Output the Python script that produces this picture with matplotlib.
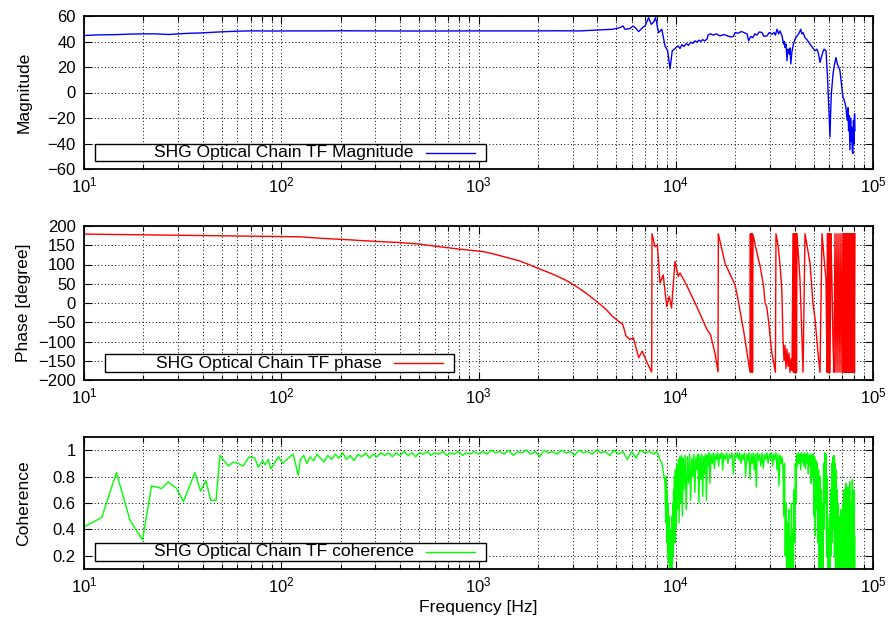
import matplotlib
matplotlib.use("Agg")
import matplotlib.pyplot as plt
from matplotlib.patches import Rectangle
from matplotlib.ticker import LogLocator, FixedLocator, FixedFormatter, NullFormatter

plt.rcParams['font.family'] = ['Liberation Sans', 'DejaVu Sans']
plt.rcParams['mathtext.fontset'] = 'custom'
plt.rcParams['mathtext.rm'] = 'Liberation Sans'
plt.rcParams['mathtext.default'] = 'regular'
plt.rcParams['font.size'] = 12

# ---- magnitude (dB) ----
mag_freq = [10, 11, 12, 13, 14.6, 17, 20, 23, 27, 30, 35, 39, 45, 50, 60, 70, 78, 90,
            110, 150, 200, 300, 500, 800, 1000, 1500, 2000, 2500, 3270, 4000, 4780,
            5220, 5400, 5530, 5860, 6080, 6300, 6490, 6800, 6990, 7280, 7510, 7700,
            7900, 8180, 8320, 8500, 8820, 9100, 9350, 9600, 10000, 10270, 10500, 10750,
            11000, 11300, 11600, 11900, 12200, 12500, 12800, 13100, 13400, 13700, 14000,
            14400, 14600, 15000, 15500, 16000, 16760, 17500, 18200, 19000, 19600, 20000,
            20700, 21500, 22200, 23000, 23400, 24000, 24600, 25200, 25800, 26500, 27380,
            28000, 29000, 29800, 30760, 31500, 32000, 32600, 33200, 33770, 34570, 35200,
            35500, 35800, 36200, 36640, 37000, 37300, 37700, 38000, 38300, 38800, 39500,
            40300, 41200, 42000, 42600, 43000, 43600, 44200, 45210, 46500, 47930, 49000,
            50810, 52000, 53000, 53860, 54800, 55600, 56500, 57800, 58800, 59600, 60530,
            61000, 61500, 62700, 63800, 64900, 66000, 67000, 68000, 69000, 70400, 71500,
            72900, 73500, 74200, 74700, 75200, 75700, 76400, 77000, 77500, 78000, 78500,
            79100, 79600, 80200, 80600, 81000]
mag_db = [44.7, 45.0, 45.2, 45.3, 45.4, 45.8, 46.0, 46.0, 45.5, 46.0, 46.5, 46.7, 47.2,
          47.6, 48.1, 48.3, 48.3, 48.2, 48.3, 48.3, 48.4, 48.3, 48.2, 48.3, 48.3, 48.3,
          48.3, 48.4, 48.3, 49.0, 49.6, 50.9, 52.2, 49.6, 50.1, 52.2, 50.0, 47.8, 51.0,
          52.2, 58.7, 53.5, 55.0, 58.7, 47.0, 48.0, 49.6, 36.6, 32.7, 18.5, 32.7, 35.0,
          36.6, 34.5, 37.5, 36.0, 38.4, 37.0, 39.5, 38.5, 40.5, 39.5, 41.0, 40.0, 41.5,
          40.5, 41.8, 45.2, 46.0, 45.0, 46.0, 44.4, 45.5, 44.5, 43.6, 44.0, 47.0, 46.5,
          47.8, 47.0, 46.0, 40.5, 44.0, 43.0, 46.0, 45.0, 47.5, 47.0, 44.0, 44.4, 47.0,
          45.7, 47.0, 45.0, 49.6, 46.0, 48.3, 44.4, 38.0, 40.0, 35.3, 38.0, 25.0, 34.0,
          32.7, 30.0, 35.0, 22.4, 32.0, 38.0, 42.0, 44.4, 46.0, 48.0, 49.6, 46.0, 47.0,
          43.0, 41.0, 38.0, 36.0, 32.7, 34.0, 30.0, 23.6, 28.0, 31.4, 34.0, 32.7, 12.0,
          -10.0, -34.8, -15.0, -1.0, 14.6, 22.0, 27.5, 22.0, 20.0, 17.0, 8.0, -3.7, -6.0,
          -11.5, -18.0, -21.8, -12.0, -30.0, -18.0, -45.0, -20.0, -38.0, -27.0, -46.0,
          -47.8, -22.0, -40.0, -16.6, -30.0]

# ---- phase (degree) ----
ph_freq = [10, 12, 15, 20, 25, 30, 40, 50, 70, 100, 124, 160, 223, 300, 400, 500, 638,
           800, 1057, 1200, 1400, 1600, 1800, 2050, 2300, 2500, 2800, 3150, 3500, 3950,
           4400, 4780, 5390, 5600, 5860, 6090,
           6490, 6760, 7160, 7550, 7580, 7850, 8070, 8320, 8640, 9000, 9270, 9520, 9910,
           10300, 10510, 11330, 12770, 14400, 15000, 15800, 16380, 16440, 17780, 19970,
           20400, 22180, 23790, 23900, 24000, 24100, 24250, 24400, 24500, 24640, 26300,
           26740, 27900, 28350, 28900, 29500, 30700, 31200, 31850, 32000, 32220, 33000,
           33770, 34500, 34950, 35400, 35800, 36200, 36640, 37100, 37500, 37950, 38400,
           38850, 39300, 39500, 39750, 39970, 40230, 40460, 40700, 40940, 41180, 42650,
           44200, 45210, 47930, 49600, 50810, 52600, 53860, 55130, 56400, 57800, 58450,
           58800, 59140, 59500, 59800, 60200, 60530, 61200, 61950, 62680, 63400, 64160,
           64900, 65670, 66440, 67200, 68000, 68800, 69610, 70420, 70830, 71250, 71670,
           72090, 72510, 72940, 73360, 73790, 74220, 74660, 75100, 75530, 75970, 76410,
           76860, 77310, 77760, 78220, 78680, 79140, 79600, 80070, 80540, 81000]
ph_deg = [179, 178.5, 178, 177, 176.5, 176, 175, 174.5, 173.5, 172.5, 172, 168, 164, 160,
          157, 153, 146, 140, 133.5, 127, 118, 110, 100, 88, 78, 70, 58, 42, 26, 5,
          -15, -35, -56, -86, -95, -90,
          -142, -125, -155, -179, 180, 146, 151, 52, 73, -9, 17, -13, 108, 69, 78, 47, -9,
          -69, -82, -130, -179, 180, 103, 47, 26, -78, -179, 180, -180, 180, -180, 180,
          -180, 177, 111, 98, 42, 0, -9, -44, -130, -148, -173, -180, 180, 150, 100, 34,
          -90, -150, -110, -170, -120, -165, -130, -180, -145, -175, 180, -180, 180, -180,
          180, -180, 180, -180, 180, 60, -180, 180, 104, 0, -40, -130, -180, 180, 120, 60,
          -180, 180, -180, 180, -180, 180, -180, 180, 50, -100, -180, 180, -180, 180, -180,
          180, -180, 180, -180, 180, -180, 180, -180, 180, -180, 180, -180, 180, -180, 180,
          -180, 180, -180, 180, -180, 180, -180, 180, -180, 180, -180, 180, -180, 180]

# ---- coherence ----
coh_freq = [10, 12.3, 14.6, 17.1, 19.8, 22, 24.8, 26.7, 29.5, 31.9, 36.5, 39, 41.5, 43.9,
            46.7, 48.9, 53.9, 57.1, 60.5, 64.1, 68.8, 73.5, 76.4, 80.4, 82.6, 85.9, 88.4,
            93.1, 96.9, 101.7, 106.4, 115, 121.9,
            125, 130, 135, 140, 146, 152, 158, 165, 172, 180, 188, 196, 205, 214, 224, 234,
            245, 256, 268, 280, 293, 306, 320, 335, 350, 366, 383, 400, 420, 440, 460, 480,
            500, 525, 550, 575, 600, 630, 660, 690, 720, 755, 790, 830, 870, 910, 950, 1000,
            1050, 1100, 1160, 1220, 1280, 1350, 1420, 1500, 1580, 1660, 1750, 1840, 1940,
            2040, 2150, 2260, 2380, 2500, 2630, 2770, 2920, 3070, 3230, 3400, 3580, 3770,
            3970, 4180, 4400, 4630, 4870, 5130, 5400, 5680, 5980, 6290, 6620, 6970, 7340,
            7720, 8000,
            8130, 8300, 8520, 8680, 8820, 8900, 8950, 9000, 9050, 9100, 9150, 9200, 9250,
            9300, 9350, 9400, 9450, 9500, 9550, 9600, 9650, 9700, 9750, 9800, 9850, 9900,
            9950, 10000, 10100, 10200, 10300, 10400, 10500, 10600, 10700, 10800, 10900,
            11000, 11150, 11300, 11450, 11600, 11750, 11900, 12050, 12200, 12350, 12500,
            12650, 12800, 12950, 13100, 13250, 13400, 13550, 13700, 13850, 14000, 14150,
            14300, 14450, 14600, 14750, 14900, 15100, 15300, 15500, 15700, 15900, 16100,
            16300, 16500, 16700, 16900, 17100, 17300, 17500, 17800, 18100, 18400, 18700,
            19000, 19300, 19600, 19900, 20200, 20500,
            20800, 21100, 21400, 21700, 22000, 22300, 22600, 22900, 23200, 23500, 23800,
            24100, 24400, 24700, 25000, 25300, 25600, 25900, 26200, 26600, 27000, 27400,
            27800, 28200, 28600, 29000, 29400, 29800, 30200, 30600, 31000, 31400, 31800,
            32200, 32600, 33000, 33400, 33800, 34200, 34600,
            35000, 35300, 35600, 35900, 36200, 36500, 36800, 37100, 37400, 37700, 38000,
            38300, 38600, 38900, 39200, 39500, 39800, 40100, 40400, 40700,
            41000, 41400, 41800, 42200, 42600, 43000, 43400, 43800, 44200, 44600, 45000,
            45400, 45800, 46200, 46600, 47000, 47400, 47800, 48200, 48600, 49000, 49400,
            49800, 50200, 50600, 51000, 51400, 51800, 52200, 52600, 53000, 53400, 53800,
            54200, 54600, 55000, 55400, 55800, 56200, 56600, 57000, 57400, 57800, 58200,
            58600, 59000, 59400, 59800, 60200, 60600, 61000, 61400, 61800, 62200, 62600,
            63000, 63400, 63800, 64200, 64600, 65000, 65400, 65800, 66200, 66600, 67000,
            67400, 67800, 68200, 68600, 69000, 69400, 69800, 70200, 70600, 71000, 71400,
            71800, 72200, 72600, 73000, 73400, 73800, 74200, 74600, 75000, 75400, 75800,
            76200, 76600, 77000, 77400, 77800, 78200, 78600, 79000, 79400, 79800, 80200,
            80600, 81000]
coh_val = [0.42, 0.49, 0.83, 0.47, 0.32, 0.73, 0.71, 0.76, 0.71, 0.61, 0.83, 0.69, 0.77,
           0.62, 0.62, 0.96, 0.88, 0.91, 0.90, 0.88, 0.95, 0.94, 0.87, 0.92, 0.89, 0.93,
           0.86, 0.91, 0.95, 0.90, 0.93, 0.97, 0.81,
           0.93, 0.96, 0.90, 0.95, 0.92, 0.97, 0.94, 0.91, 0.96, 0.93, 0.97, 0.94, 0.98,
           0.93, 0.96, 0.92, 0.97, 0.95, 0.98, 0.94, 0.97, 0.95, 0.98, 0.96, 0.98, 0.95,
           0.98, 0.96, 0.99, 0.96, 0.98, 0.95, 0.98, 0.97, 0.99, 0.96, 0.98, 0.97, 0.99,
           0.96, 0.98, 0.97, 0.99, 0.96, 0.98, 0.97, 0.99, 0.97,
           0.99, 0.97, 1.0, 0.98, 0.99, 0.97, 1.0, 0.96, 0.99, 0.98, 1.0, 0.97, 0.99, 0.95,
           1.0, 0.98, 0.99, 0.97, 1.0, 0.98, 0.99, 0.96, 1.0, 0.98, 0.99, 0.97, 1.0, 0.98,
           0.99, 0.96, 1.0, 0.97, 0.99, 0.93, 0.99, 0.94, 1.0, 0.98, 0.99, 0.97, 0.99,
           0.97, 0.93, 0.90, 0.82, 0.75, 0.45, 0.80, 0.30, 0.70, 0.20, 0.60, 0.15, 0.50,
           0.05, 0.40, 0.05, 0.35, 0.08, 0.50, 0.10, 0.60, 0.20, 0.70, 0.35, 0.80, 0.30,
           0.85, 0.40, 0.90, 0.55, 0.93, 0.45, 0.95, 0.60, 0.96, 0.50, 0.94,
           0.70, 0.96, 0.55, 0.95, 0.75, 0.97, 0.62, 0.94, 0.80, 0.97, 0.68, 0.95, 0.85,
           0.97, 0.60, 0.96, 0.78, 0.97, 0.65, 0.95, 0.82, 0.97, 0.62, 0.96, 0.88, 0.98,
           0.75, 0.97, 0.90, 0.98, 0.86, 0.97, 0.93, 0.98, 0.88, 0.97, 0.94, 0.98, 0.85,
           0.97, 0.93, 0.98, 0.90, 0.97, 0.94, 0.98, 0.82, 0.97, 0.94, 0.98,
           0.93, 0.98, 0.90, 0.97, 0.93, 0.98, 0.80, 0.97, 0.92, 0.98, 0.78, 0.97, 0.90,
           0.98, 0.85, 0.97, 0.72, 0.98, 0.92, 0.97, 0.88, 0.98, 0.86, 0.97, 0.93, 0.98,
           0.90, 0.97, 0.94, 0.98, 0.88, 0.97, 0.93, 0.98, 0.85, 0.97, 0.73, 0.96, 0.90,
           0.95,
           0.85, 0.50, 0.90, 0.20, 0.60, 0.05, 0.45, 0.10, 0.55, 0.05, 0.35, 0.08, 0.60,
           0.10, 0.40, 0.05, 0.70, 0.30, 0.90, 0.60,
           0.97, 0.88, 0.98, 0.90, 0.97, 0.85, 0.98, 0.91, 0.97, 0.88, 0.98, 0.86, 0.97,
           0.90, 0.98, 0.82, 0.96, 0.88, 0.97, 0.75, 0.96, 0.80, 0.97, 0.50, 0.95, 0.35,
           0.92, 0.55, 0.90, 0.30, 0.85, 0.10, 0.80, 0.05, 0.70, 0.05, 0.60, 0.10, 0.90,
           0.40, 0.98, 0.60, 0.97, 0.20, 0.80, 0.05, 0.40, 0.05, 0.50, 0.05, 0.70, 0.20,
           0.90, 0.30, 0.95, 0.40, 0.96, 0.20, 0.90, 0.05, 0.85, 0.05, 0.70, 0.05, 0.60,
           0.05, 0.50, 0.05, 0.40, 0.05, 0.55, 0.05, 0.45, 0.10, 0.60, 0.05, 0.70, 0.20,
           0.65, 0.05, 0.75, 0.15, 0.60, 0.05, 0.72, 0.10, 0.50, 0.05, 0.76, 0.20, 0.55,
           0.05, 0.60, 0.10, 0.78, 0.05, 0.45, 0.05, 0.70, 0.05, 0.35]

keys = ["SHG Optical Chain TF Magnitude", "SHG Optical Chain TF phase",
        "SHG Optical Chain TF coherence"]
ylabels = ["Magnitude", "Phase [degree]", "Coherence"]

W, H = 888, 628
fig = plt.figure(figsize=(W / 100, H / 100), dpi=100)


def px_axes(x0, y0, x1, y1):
    return fig.add_axes([x0 / W, 1 - y1 / H, (x1 - x0) / W, (y1 - y0) / H])


ax1 = px_axes(84, 16, 873, 169)
ax2 = px_axes(84, 226, 873, 380)
ax3 = px_axes(84, 437, 873, 569)


def style(ax, ylab):
    ax.set_xscale('log')
    ax.set_xlim(10, 1e5)
    ax.xaxis.set_major_locator(LogLocator(base=10, numticks=10))
    ax.xaxis.set_minor_locator(LogLocator(base=10, subs=range(2, 10), numticks=20))
    ax.xaxis.set_minor_formatter(NullFormatter())
    ax.tick_params(which='both', direction='in', top=True, right=True,
                   width=0.8, labelsize=12)
    ax.tick_params(which='major', length=6)
    ax.tick_params(which='minor', length=3.5)
    ax.tick_params(axis='x', pad=5)
    ax.tick_params(axis='y', pad=6)
    ax.grid(True, which='both', axis='x', color='k', linestyle=(0, (1, 2.5)), lw=0.7)
    ax.grid(True, which='major', axis='y', color='k', linestyle=(0, (1, 2.5)), lw=0.7)
    for s in ax.spines.values():
        s.set_linewidth(1.3)
    ax.set_ylabel(ylab, fontsize=12.6)
    ax.yaxis.set_label_coords(-0.067, 0.5)


def gp_key(ax, box_x0, box_x1, y0, y1, text, color, text_x, lx0, lx1):
    ax.add_patch(Rectangle((box_x0, y0), box_x1 - box_x0, y1 - y0, transform=ax.transAxes,
                           facecolor='white', edgecolor='black', lw=1.0, zorder=5))
    ym = (y0 + y1) / 2
    ax.text(text_x, ym, text, transform=ax.transAxes, ha='right', va='center',
            fontsize=12.6, zorder=6)
    ax.plot([lx0, lx1], [ym, ym], transform=ax.transAxes, color=color, lw=1.0, zorder=6)


ax1.plot(mag_freq, mag_db, color='#0000ff', lw=1.0)
style(ax1, ylabels[0])
ax1.set_ylim(-60, 60)
ax1.set_yticks(range(-60, 61, 20))
gp_key(ax1, 0.014, 0.5095, 0.052, 0.163, keys[0], '#0000ff', 0.418, 0.4335, 0.4956)

ax2.plot(ph_freq, ph_deg, color='#ff0000', lw=1.0)
style(ax2, ylabels[1])
ax2.set_ylim(-200, 200)
ax2.set_yticks(range(-200, 201, 50))
gp_key(ax2, 0.0266, 0.469, 0.05, 0.169, keys[1], '#ff0000', 0.378, 0.393, 0.455)

ax3.plot(coh_freq, coh_val, color='#00ff00', lw=1.0)
style(ax3, ylabels[2])
ax3.set_ylim(0.1, 1.1)
coh_ticks = [0.2, 0.4, 0.6, 0.8, 1.0]
ax3.yaxis.set_major_locator(FixedLocator(coh_ticks))
ax3.yaxis.set_major_formatter(FixedFormatter(['0.2', '0.4', '0.6', '0.8', '1']))
gp_key(ax3, 0.014, 0.5095, 0.061, 0.197, keys[2], '#00ff00', 0.418, 0.4335, 0.4956)
ax3.set_xlabel("Frequency [Hz]", fontsize=12.6, labelpad=3)

fig.savefig("out.png", dpi=100)
